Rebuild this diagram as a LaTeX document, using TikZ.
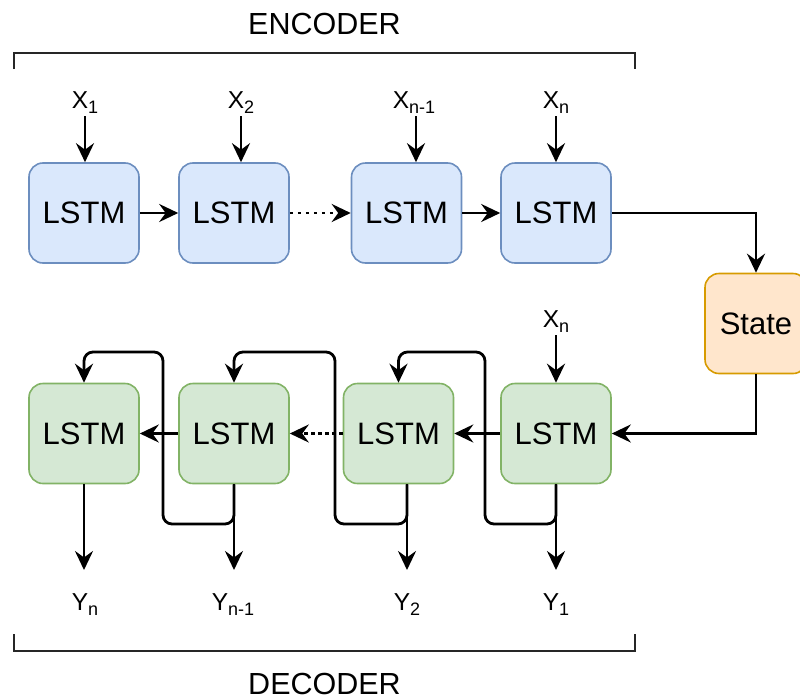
\documentclass[tikz,border=0pt]{standalone}
\usepackage{fontspec}
\setmainfont{Liberation Sans}
\usetikzlibrary{arrows.meta}
\definecolor{encfill}{HTML}{DAE8FC}
\definecolor{encdraw}{HTML}{6C8EBF}
\definecolor{decfill}{HTML}{D5E8D4}
\definecolor{decdraw}{HTML}{82B366}
\definecolor{stfill}{HTML}{FFE6CC}
\definecolor{stdraw}{HTML}{D79B00}
\newcommand{\sbx}[1]{\raisebox{-5pt}{\fontsize{18}{19}\selectfont #1}}
\begin{document}
\begin{tikzpicture}[x=1pt,y=-1pt,
  box/.style={draw, rounded corners=14pt, minimum width=110pt, minimum height=100pt,
    inner sep=0pt, line width=1.6pt, font=\fontsize{31}{34}\selectfont},
  enc/.style={box, fill=encfill, draw=encdraw},
  dec/.style={box, fill=decfill, draw=decdraw},
  st/.style={box, fill=stfill, draw=stdraw, minimum width=102pt},
  arr/.style={line width=2.8pt, -{Stealth[length=19pt,width=18pt,inset=6.5pt]}},
  lbl/.style={font=\fontsize{24.5}{26}\selectfont, inner sep=3pt, anchor=base},
  brk/.style={line width=1.6pt, draw=black!85},
  ttl/.style={font=\fontsize{30.5}{32}\selectfont, anchor=base, inner sep=0pt},
  loop/.style={arr, rounded corners=9pt}
]
\useasboundingbox (0,0) rectangle (800,699);

% encoder
\node[enc] (e1) at (84,213) {LSTM};
\node[enc] (e2) at (234,213) {LSTM};
\node[enc] (e3) at (406.5,213) {LSTM};
\node[enc] (e4) at (556,213) {LSTM};
\node[st] (s) at (756,323.5) {State};

% decoder
\node[dec] (d1) at (84,433.5) {LSTM};
\node[dec] (d2) at (234,433.5) {LSTM};
\node[dec] (d3) at (398.5,433.5) {LSTM};
\node[dec] (d4) at (556,433.5) {LSTM};

% input labels
\node[lbl] (x1) at (85,108) {X\sbx{1}};
\node[lbl] (x2) at (241,108) {X\sbx{2}};
\node[lbl] (x3) at (414,108) {X\sbx{n-1}};
\node[lbl] (x4) at (556,108) {X\sbx{n}};
\node[lbl] (xd) at (556,327) {X\sbx{n}};

% output labels
\node[lbl] (yn) at (85,610) {Y\sbx{n}};
\node[lbl] (ym) at (233,610) {Y\sbx{n-1}};
\node[lbl] (y2) at (407,610) {Y\sbx{2}};
\node[lbl] (y1) at (556,610) {Y\sbx{1}};

% input arrows
\draw[arr] (x1.south) -- (x1.south |- e1.north);
\draw[arr] (x2.south) -- (x2.south |- e2.north);
\draw[arr] ([xshift=2pt]x3.south) -- ([xshift=2pt]x3.south |- e3.north);
\draw[arr] (x4.south) -- (x4.south |- e4.north);
\draw[arr] (xd.south) -- (xd.south |- d4.north);

% encoder chain
\draw[arr] (e1) -- (e2);
\draw[arr, dash pattern=on 3pt off 5pt] (e2) -- (e3);
\draw[arr] (e3) -- (e4);
\draw[arr] (e4.east) -| (s.north);
\draw[arr] (s.south) |- (d4.east);

% decoder chain
\draw[arr] (d4) -- (d3);
\draw[arr, dash pattern=on 4pt off 3pt] (d3) -- (d2);
\draw[arr] (d2) -- (d1);

% feedback loops
\draw[loop] (d4.south) -- (556,524) -- (485,524) -- (485,352) -- (398.5,352) -- (d3.north);
\draw[loop] (y2.north |- d3.south) -- (407,524) -- (335,524) -- (335,352) -- (234,352) -- (d2.north);
\draw[loop] (d2.south) -- (234,524) -- (163,524) -- (163,352) -- (84,352) -- (d1.north);

% output arrows
\draw[arr] (d1.south) -- (d1.south |- 0,570);
\draw[arr] (d2.south) -- (d2.south |- 0,570);
\draw[arr] (y2.north |- d3.south) -- (y2.north |- 0,570);
\draw[arr] (d4.south) -- (d4.south |- 0,570);

% brackets
\draw[brk] (14,69) -- (14,53) -- (635,53) -- (635,69);
\node[ttl] (enct) at (324.5,34.5) {ENCODER};
\draw[brk] (14,634) -- (14,651) -- (635,651) -- (635,634);
\node[ttl] (dect) at (324.5,694) {DECODER};
\end{tikzpicture}
\end{document}
